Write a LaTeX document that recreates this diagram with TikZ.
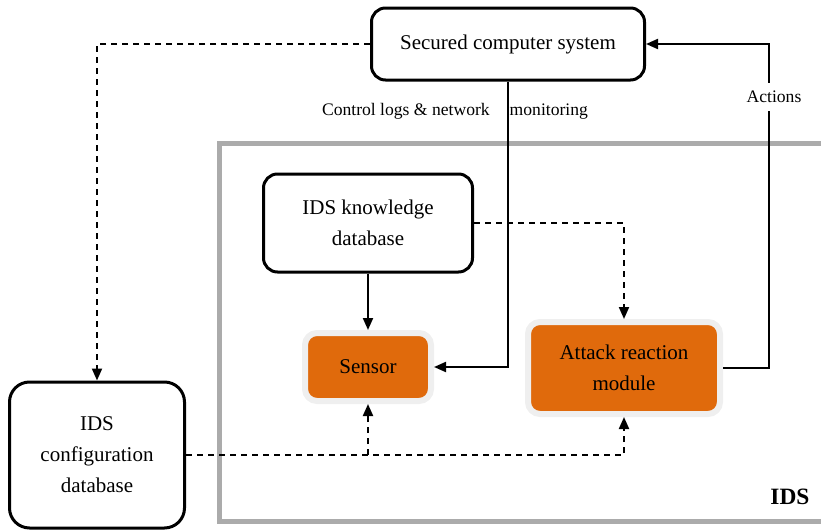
\documentclass[tikz,border=0pt]{standalone}
\usepackage{fontspec}
\setmainfont{Liberation Serif}
\usepackage{xcolor}
\usepackage{tikz}
\usetikzlibrary{arrows.meta, positioning}
\definecolor{idsorange}{HTML}{E06A0C}
\definecolor{idsgray}{HTML}{ABABAB}
\definecolor{idshalo}{HTML}{EFEFEF}
\tikzstyle{arrow} = [line width=1pt,-{Triangle[length=6pt,width=5pt]}]
\tikzset{every node/.style={align=center}}

\begin{document}
\begin{tikzpicture}[
    x=0.5pt, y=-0.5pt,
    box/.style={draw, line width=1.5pt, rounded corners=7pt, fill=white,
                font=\fontsize{10.5}{15.5}\selectfont},
    module/.style={draw=idshalo, line width=3pt, rounded corners=6pt, fill=idsorange,
                   font=\fontsize{10.5}{15.5}\selectfont},
    dasharrow/.style={arrow, dash pattern=on 3pt off 2.5pt},
    lbl/.style={font=\fontsize{8.8}{10}\selectfont}
]
  \useasboundingbox (0,0) rectangle (821,530);
  % IDS frame
  \draw[idsgray, line width=2.5pt] (219,143) rectangle (860,521);
  \node[font=\fontsize{11.7}{13}\selectfont\bfseries] (idslbl) at (790,497) {IDS};
  % Boxes
  \node (sec) at (508,44)  [box, minimum width=136.5pt, minimum height=36pt] {Secured computer system};
  \node (kdb) at (368,223) [box, minimum width=104.5pt, minimum height=49pt] {IDS knowledge\\database};
  \node (cfg) at (97,455)  [box, rounded corners=10pt, minimum width=87.5pt, minimum height=73pt] {IDS\\configuration\\database};
  \node (sen) at (368,367) [module, minimum width=63pt, minimum height=34pt] {Sensor};
  \node (arm) at (624,368) [module, minimum width=96pt, minimum height=46pt] {Attack reaction\\module};
  % Connectors
  \draw[dasharrow] (sec.west) -| (cfg.north);
  \draw[arrow] (sec.south) |- (sen.east);
  \node[lbl] (ctl) at (455,111) {Control logs \& network\hspace{10pt}monitoring};
  \coordinate (turn) at (769,44);
  \draw[arrow] (arm.east) -| (turn) -- (sec.east);
  \node[lbl, fill=white, inner ysep=4pt] (act) at (774,97) {Actions};
  \draw[arrow] (kdb.south) -- (sen.north);
  \draw[dasharrow] (kdb.east) -| (arm.north);
  \draw[dasharrow] (cfg.east) -| (arm.south);
  \coordinate (split) at (sen.south |- cfg.east);
  \draw[dasharrow] (split) -- (sen.south);
\end{tikzpicture}
\end{document}
